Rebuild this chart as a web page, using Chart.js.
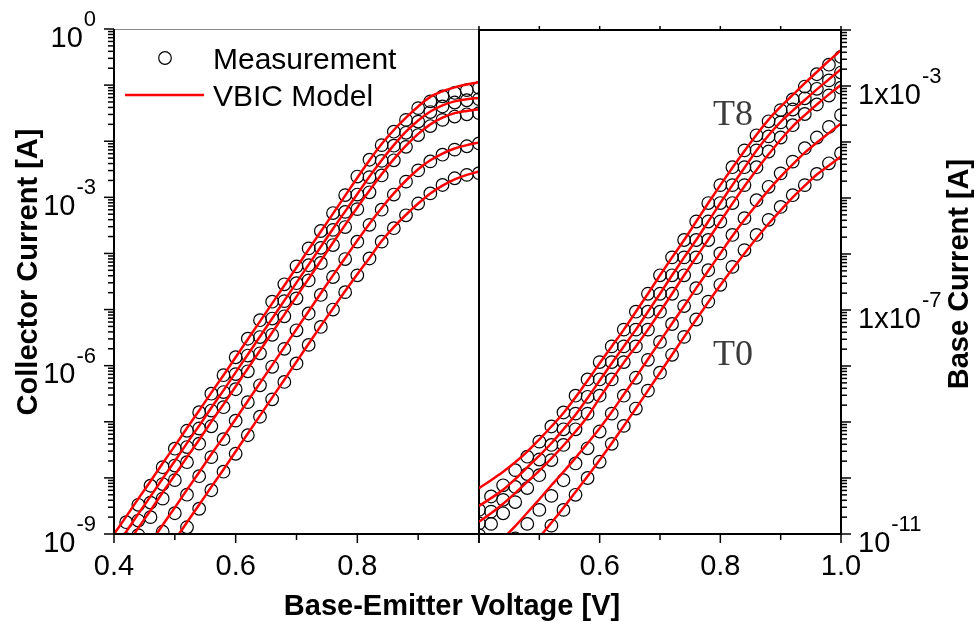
<!DOCTYPE html>
<html>
<head>
<meta charset="utf-8">
<title>Collector and base current vs base-emitter voltage</title>
<script src="https://cdn.jsdelivr.net/npm/chart.js@4.4.1/dist/chart.umd.min.js"></script>
<style>
  html, body { margin: 0; padding: 0; background: #fff; }
  #wrap { position: relative; width: 976px; height: 622px; }
  #wrap canvas { position: absolute; left: 0; top: 0; }
</style>
</head>
<body>
<div id="wrap">
  <canvas id="icChart" width="976" height="622"></canvas>
  <canvas id="ibChart" width="976" height="622"></canvas>
</div>
<script>
// base-emitter voltage [V], same grid for every curve
const vbe = [0.40, 0.42, 0.44, 0.46, 0.48, 0.50, 0.52, 0.54, 0.56, 0.58, 0.60,
  0.62, 0.64, 0.66, 0.68, 0.70, 0.72, 0.74, 0.76, 0.78, 0.80,
  0.82, 0.84, 0.86, 0.88, 0.90, 0.92, 0.94, 0.96, 0.98, 1.00];

// currents are kept as log10(I [A]), curve 1 = top (T8) ... curve 5 = bottom (T0)
// collector current, measurement
const icMeas1 = [null, -8.79, -8.48, -8.14, -7.81, -7.48, -7.16, -6.83, -6.50, -6.17, -5.85, -5.52, -5.19, -4.86, -4.55, -4.23, -3.91, -3.60, -3.28, -2.96, -2.63, -2.33, -2.07, -1.83, -1.62, -1.41, -1.29, -1.20, -1.14, -1.09, -1.05];
const icMeas2 = [null, -9.09, -8.76, -8.44, -8.11, -7.78, -7.45, -7.12, -6.80, -6.47, -6.15, -5.82, -5.49, -5.16, -4.85, -4.53, -4.21, -3.90, -3.58, -3.26, -2.95, -2.64, -2.35, -2.08, -1.85, -1.65, -1.48, -1.38, -1.31, -1.27, -1.25];
const icMeas3 = [null, null, -9.02, -8.70, -8.37, -8.04, -7.72, -7.39, -7.08, -6.74, -6.42, -6.10, -5.78, -5.45, -5.12, -4.80, -4.48, -4.17, -3.85, -3.53, -3.21, -2.91, -2.61, -2.34, -2.10, -1.89, -1.73, -1.62, -1.56, -1.52, -1.50];
const icMeas4 = [null, null, null, null, -8.96, -8.63, -8.30, -7.97, -7.63, -7.31, -6.98, -6.65, -6.35, -6.02, -5.70, -5.37, -5.07, -4.74, -4.42, -4.10, -3.79, -3.49, -3.22, -2.95, -2.72, -2.52, -2.36, -2.24, -2.15, -2.09, -2.04];
const icMeas5 = [null, null, null, null, null, null, -8.88, -8.55, -8.22, -7.89, -7.57, -7.24, -6.91, -6.60, -6.29, -5.96, -5.63, -5.31, -5.00, -4.69, -4.39, -4.09, -3.79, -3.55, -3.32, -3.11, -2.93, -2.78, -2.66, -2.60, -2.57];

// collector current, VBIC model
const icModel1 = [-9.00, -8.69, -8.37, -8.06, -7.74, -7.43, -7.11, -6.80, -6.48, -6.17, -5.85, -5.53, -5.21, -4.89, -4.57, -4.25, -3.93, -3.61, -3.29, -2.97, -2.65, -2.34, -2.05, -1.80, -1.58, -1.38, -1.21, -1.11, -1.04, -0.99, -0.95];
const icModel2 = [-9.27, -8.96, -8.64, -8.33, -8.01, -7.70, -7.38, -7.07, -6.75, -6.44, -6.12, -5.80, -5.48, -5.16, -4.84, -4.52, -4.20, -3.88, -3.56, -3.25, -2.94, -2.63, -2.34, -2.07, -1.83, -1.63, -1.47, -1.36, -1.29, -1.25, -1.23];
const icModel3 = [-9.52, -9.21, -8.89, -8.58, -8.26, -7.95, -7.63, -7.32, -7.00, -6.69, -6.37, -6.05, -5.73, -5.41, -5.09, -4.77, -4.45, -4.13, -3.81, -3.49, -3.18, -2.88, -2.59, -2.32, -2.08, -1.87, -1.70, -1.58, -1.50, -1.46, -1.43];
const icModel4 = [-10.10, -9.79, -9.47, -9.16, -8.84, -8.53, -8.21, -7.90, -7.58, -7.27, -6.95, -6.63, -6.31, -5.99, -5.67, -5.35, -5.03, -4.71, -4.39, -4.08, -3.77, -3.47, -3.19, -2.93, -2.70, -2.50, -2.34, -2.22, -2.13, -2.07, -2.02];
const icModel5 = [-10.68, -10.37, -10.05, -9.74, -9.42, -9.11, -8.79, -8.48, -8.16, -7.85, -7.53, -7.21, -6.89, -6.57, -6.25, -5.93, -5.61, -5.29, -4.98, -4.67, -4.37, -4.08, -3.78, -3.53, -3.31, -3.11, -2.93, -2.79, -2.68, -2.60, -2.54];

// base current, measurement
const ibMeas1 = [-10.57, -10.33, -10.13, -9.86, -9.62, -9.35, -9.08, -8.83, -8.53, -8.24, -7.93, -7.65, -7.35, -7.03, -6.71, -6.38, -6.06, -5.75, -5.42, -5.09, -4.77, -4.45, -4.15, -3.88, -3.63, -3.43, -3.24, -3.01, -2.79, -2.62, -2.48];
const ibMeas2 = [-10.81, -10.60, -10.39, -10.16, -9.93, -9.67, -9.41, -9.13, -8.85, -8.55, -8.24, -7.93, -7.65, -7.35, -7.03, -6.71, -6.38, -6.06, -5.75, -5.42, -5.09, -4.77, -4.45, -4.15, -3.90, -3.65, -3.42, -3.22, -3.05, -2.90, -2.76];
const ibMeas3 = [-11.02, -10.82, -10.63, -10.43, -10.18, -9.95, -9.68, -9.41, -9.13, -8.85, -8.53, -8.24, -7.93, -7.65, -7.35, -7.03, -6.71, -6.38, -6.06, -5.75, -5.42, -5.09, -4.77, -4.45, -4.17, -3.92, -3.70, -3.50, -3.33, -3.17, -3.03];
const ibMeas4 = [null, null, null, -11.08, -10.82, -10.57, -10.32, -10.04, -9.74, -9.47, -9.17, -8.85, -8.53, -8.21, -7.89, -7.57, -7.25, -6.93, -6.61, -6.29, -5.99, -5.66, -5.36, -5.04, -4.80, -4.56, -4.35, -4.11, -3.92, -3.73, -3.52];
const ibMeas5 = [null, null, null, null, null, null, -10.85, -10.57, -10.30, -10.00, -9.71, -9.39, -9.07, -8.76, -8.44, -8.12, -7.80, -7.48, -7.17, -6.85, -6.55, -6.23, -5.93, -5.66, -5.39, -5.16, -4.95, -4.77, -4.57, -4.38, -4.20];

// base current, VBIC model
const ibModel1 = [-10.18, -10.04, -9.89, -9.72, -9.53, -9.31, -9.08, -8.84, -8.56, -8.26, -7.95, -7.65, -7.35, -7.03, -6.71, -6.38, -6.06, -5.75, -5.42, -5.09, -4.77, -4.46, -4.16, -3.87, -3.60, -3.37, -3.16, -2.95, -2.75, -2.55, -2.36];
const ibModel2 = [-10.50, -10.36, -10.21, -10.02, -9.81, -9.60, -9.38, -9.13, -8.87, -8.57, -8.26, -7.95, -7.65, -7.35, -7.03, -6.71, -6.38, -6.06, -5.75, -5.42, -5.09, -4.77, -4.46, -4.15, -3.88, -3.64, -3.44, -3.25, -3.06, -2.88, -2.70];
const ibModel3 = [-10.78, -10.63, -10.46, -10.27, -10.07, -9.87, -9.65, -9.42, -9.17, -8.90, -8.57, -8.25, -7.94, -7.65, -7.35, -7.03, -6.71, -6.38, -6.06, -5.74, -5.42, -5.10, -4.79, -4.50, -4.22, -3.96, -3.72, -3.52, -3.33, -3.15, -2.98];
const ibModel4 = [-11.58, -11.35, -11.09, -10.86, -10.62, -10.38, -10.13, -9.89, -9.64, -9.38, -9.11, -8.82, -8.51, -8.20, -7.88, -7.56, -7.24, -6.93, -6.61, -6.30, -5.99, -5.68, -5.39, -5.12, -4.86, -4.62, -4.40, -4.19, -4.01, -3.84, -3.67];
const ibModel5 = [-12.35, -12.10, -11.85, -11.60, -11.32, -11.06, -10.80, -10.53, -10.25, -9.97, -9.68, -9.38, -9.07, -8.76, -8.44, -8.12, -7.80, -7.48, -7.17, -6.86, -6.56, -6.27, -5.99, -5.72, -5.46, -5.22, -4.99, -4.78, -4.58, -4.42, -4.26];

// ticks and labels
const voltTicks = [0.4, 0.5, 0.6, 0.7, 0.8, 0.9, 1.0];
const voltLabelsLeft = ['0.4', null, '0.6', null, '0.8', null, null];
const voltLabelsRight = [null, null, '0.6', null, '0.8', null, '1.0'];
const icTicks = [1, 1e-3, 1e-6, 1e-9];
const icTickLabels = [['10', '0'], ['10', '-3'], ['10', '-6'], ['10', '-9']];
const ibTicks = [1e-3, 1e-7, 1e-11];
const ibTickLabels = [['1x10', '-3'], ['1x10', '-7'], ['10', '-11']];

const SANS = '"Liberation Sans", Arial, Helvetica, sans-serif';

function pts(logs) {
  return vbe.map((v, i) => ({ x: v, y: logs[i] === null ? null : Math.pow(10, logs[i]) }));
}

function measSet(logs) {
  return {
    data: pts(logs), showLine: false, order: 2, clip: 0,
    pointStyle: 'circle', pointRadius: 6.3, pointBorderWidth: 1.2,
    pointBorderColor: '#000', pointBackgroundColor: 'rgba(0,0,0,0)'
  };
}

function modelSet(logs) {
  return {
    data: pts(logs), showLine: true, order: 1, clip: 0,
    borderColor: '#ff0000', borderWidth: 2.5, pointRadius: 0,
    cubicInterpolationMode: 'monotone', fill: false
  };
}

function seg(ctx, x1, y1, x2, y2) {
  ctx.beginPath();
  ctx.moveTo(x1, y1);
  ctx.lineTo(x2, y2);
  ctx.stroke();
}

// walk a log axis: 1..9 x 10^e, flag decades as major
function eachLogTick(min, max, fn) {
  const e0 = Math.round(Math.log10(min));
  const e1 = Math.round(Math.log10(max));
  for (let e = e0; e <= e1; e++) {
    for (let k = 1; k <= 9; k++) {
      const v = k * Math.pow(10, e);
      if (v > max * 1.0001) return;
      fn(v, k === 1);
    }
  }
}

// "10" with a raised exponent
function drawPower(ctx, base, sup, x, y, align) {
  ctx.font = '29px ' + SANS;
  const wb = ctx.measureText(base).width;
  ctx.font = '22px ' + SANS;
  const ws = ctx.measureText(sup).width;
  const x0 = align === 'right' ? x - wb - ws - 1 : x;
  ctx.textAlign = 'left';
  ctx.textBaseline = 'alphabetic';
  ctx.font = '29px ' + SANS;
  ctx.fillText(base, x0, y + 17.5);
  ctx.font = '22px ' + SANS;
  ctx.fillText(sup, x0 + wb + 1, y - 3);
}

function bottomAxis(ctx, a, x, labels) {
  ctx.strokeStyle = '#000';
  ctx.lineWidth = 1.5;
  ctx.fillStyle = '#000';
  ctx.font = '29px ' + SANS;
  ctx.textAlign = 'center';
  ctx.textBaseline = 'alphabetic';
  voltTicks.forEach((v, i) => {
    const px = x.getPixelForValue(v);
    const major = i % 2 === 0;
    seg(ctx, px, a.bottom, px, a.bottom + (major ? 9 : 6));
    if (labels[i]) ctx.fillText(labels[i], px, a.bottom + 41);
  });
}

const icFrame = {
  id: 'icFrame',
  afterDraw(chart) {
    const { ctx, chartArea: a, scales: { x, y } } = chart;
    ctx.save();
    ctx.strokeStyle = '#8a8a8a';
    ctx.lineWidth = 1;
    seg(ctx, a.left, a.top + 0.5, a.right, a.top + 0.5);
    ctx.strokeStyle = '#000';
    ctx.lineWidth = 2;
    seg(ctx, a.left, a.top, a.left, a.bottom + 1);
    seg(ctx, a.right, a.top, a.right, a.bottom + 1);
    seg(ctx, a.left - 1, a.bottom, a.right, a.bottom);

    ctx.lineWidth = 1.5;
    eachLogTick(y.min, y.max, (v, major) => {
      const py = y.getPixelForValue(v);
      seg(ctx, a.left - (major ? 10 : 6), py, a.left, py);
    });
    ctx.fillStyle = '#000';
    icTicks.forEach((v, i) => {
      drawPower(ctx, icTickLabels[i][0], icTickLabels[i][1], 96, y.getPixelForValue(v), 'right');
    });
    bottomAxis(ctx, a, x, voltLabelsLeft);

    // legend
    ctx.lineWidth = 1.2;
    ctx.beginPath();
    ctx.arc(165, 58, 6.3, 0, Math.PI * 2);
    ctx.stroke();
    ctx.strokeStyle = '#ff0000';
    ctx.lineWidth = 2.5;
    seg(ctx, 125, 95, 204, 95);
    ctx.font = '30px ' + SANS;
    ctx.textAlign = 'left';
    ctx.fillText('Measurement', 213, 68.5);
    ctx.fillText('VBIC Model', 213, 105.5);

    // axis titles
    ctx.font = 'bold 29px ' + SANS;
    ctx.textAlign = 'center';
    ctx.fillText('Base-Emitter Voltage [V]', 452, 615);
    ctx.save();
    ctx.translate(37, 272);
    ctx.rotate(-Math.PI / 2);
    ctx.fillText('Collector Current [A]', 0, 0);
    ctx.restore();
    ctx.restore();
  }
};

const ibFrame = {
  id: 'ibFrame',
  afterDraw(chart) {
    const { ctx, chartArea: a, scales: { x, y } } = chart;
    ctx.save();
    ctx.strokeStyle = '#000';
    ctx.lineWidth = 2;
    seg(ctx, a.left, a.top, a.right + 1, a.top);
    seg(ctx, a.right, a.top, a.right, a.bottom + 1);
    seg(ctx, a.left, a.bottom, a.right + 1, a.bottom);

    ctx.lineWidth = 1.5;
    voltTicks.forEach((v) => {
      const px = x.getPixelForValue(v);
      seg(ctx, px, a.top - 4, px, a.top);
    });
    eachLogTick(y.min, y.max, (v, major) => {
      const py = y.getPixelForValue(v);
      seg(ctx, a.right, py, a.right + (major ? 10 : 6), py);
    });
    ctx.fillStyle = '#000';
    ibTicks.forEach((v, i) => {
      drawPower(ctx, ibTickLabels[i][0], ibTickLabels[i][1], 858, y.getPixelForValue(v), 'left');
    });
    bottomAxis(ctx, a, x, voltLabelsRight);

    // temperature tags
    ctx.fillStyle = '#3c3c3c';
    ctx.font = '36px "Liberation Serif", "Times New Roman", serif';
    ctx.textAlign = 'left';
    ctx.fillText('T8', 713, 125);
    ctx.fillText('T0', 713, 365);

    ctx.fillStyle = '#000';
    ctx.font = 'bold 29px ' + SANS;
    ctx.textAlign = 'center';
    ctx.save();
    ctx.translate(968, 274);
    ctx.rotate(-Math.PI / 2);
    ctx.fillText('Base Current [A]', 0, 0);
    ctx.restore();
    ctx.restore();
  }
};

function panel(canvasId, datasets, yMin, yMax, padding, plugin) {
  return new Chart(document.getElementById(canvasId), {
    type: 'scatter',
    data: { datasets },
    options: {
      responsive: false,
      animation: false,
      events: [],
      layout: { padding },
      plugins: { legend: { display: false }, tooltip: { enabled: false } },
      scales: {
        x: { type: 'linear', min: 0.4, max: 1.0, display: false },
        y: { type: 'logarithmic', min: yMin, max: yMax, display: false }
      }
    },
    plugins: [plugin]
  });
}

const icSets = [icModel1, icModel2, icModel3, icModel4, icModel5].map(modelSet)
  .concat([icMeas1, icMeas2, icMeas3, icMeas4, icMeas5].map(measSet));
const ibSets = [ibModel1, ibModel2, ibModel3, ibModel4, ibModel5].map(modelSet)
  .concat([ibMeas1, ibMeas2, ibMeas3, ibMeas4, ibMeas5].map(measSet));

panel('icChart', icSets, 1e-9, 1, { left: 114, right: 497, top: 29, bottom: 88 }, icFrame);
panel('ibChart', ibSets, 1e-11, 1e-2, { left: 479, right: 135, top: 30, bottom: 88 }, ibFrame);
</script>
</body>
</html>
